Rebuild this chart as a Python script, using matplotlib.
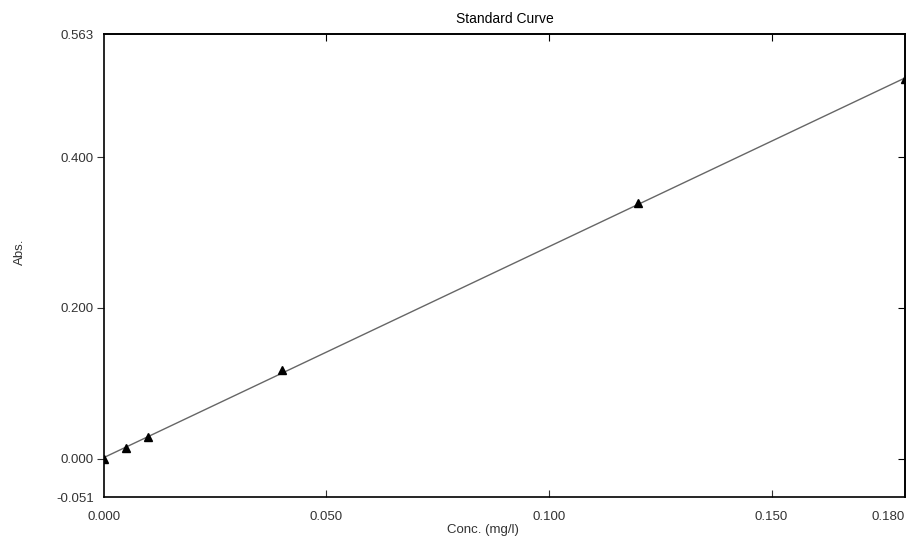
import numpy as np
import matplotlib.pyplot as plt
from matplotlib.ticker import FixedLocator

plt.rcParams['font.family'] = ['Liberation Sans', 'DejaVu Sans']

# standard points
conc = [0.000, 0.005, 0.010, 0.040, 0.120, 0.180]
absb = [0.000, 0.014, 0.028, 0.117, 0.339, 0.503]

xticks = [0.000, 0.050, 0.100, 0.150, 0.180]
xlabels = ['0.000', '0.050', '0.100', '0.150', '0.180']
yticks = [-0.051, 0.000, 0.200, 0.400, 0.563]
ylabels = ['-0.051', '0.000', '0.200', '0.400', '0.563']
inner_x = [0.050, 0.100, 0.150]
inner_y = [0.000, 0.200, 0.400]

fig = plt.figure(figsize=(9.18, 5.42), dpi=100)
ax = fig.add_axes([0.113, 0.083, 0.873, 0.854])

# fitted line
k, b = np.polyfit(conc, absb, 1)
xs = np.array([conc[0], conc[-1]])
ax.plot(xs, k * xs + b, color='#666666', lw=1.0)
ax.plot(conc, absb, linestyle='none', marker='^', color='black', markersize=6)

ax.set_xlim(0, 0.18)
ax.set_ylim(-0.051, 0.563)

ax.set_xticks(xticks)
ax.set_xticklabels(xlabels)
ax.set_yticks(yticks)
ax.set_yticklabels(ylabels)
ax.tick_params(axis='x', direction='in', length=5, labelsize=9.5, colors='#333333', pad=10)
ax.tick_params(axis='y', direction='out', length=5, labelsize=9.5, colors='#333333', pad=2)
# hide ticks at the corners
for t in ax.xaxis.get_major_ticks():
    if t.get_loc() in (0.0, 0.18):
        t.tick1line.set_visible(False)
for t in ax.yaxis.get_major_ticks():
    if t.get_loc() in (-0.051, 0.563):
        t.tick1line.set_visible(False)
ax.get_xticklabels()[-1].set_horizontalalignment('right')

top = ax.secondary_xaxis('top')
top.xaxis.set_major_locator(FixedLocator(inner_x))
top.tick_params(direction='in', length=5, labeltop=False)
right = ax.secondary_yaxis('right')
right.yaxis.set_major_locator(FixedLocator(inner_y))
right.tick_params(direction='in', length=5, labelright=False)

for s in ax.spines.values():
    s.set_linewidth(1.2)
top.spines['top'].set_linewidth(1.2)
right.spines['right'].set_linewidth(1.2)

ax.set_title('Standard Curve', fontsize=10, pad=8)
ax.set_xlabel('Conc. (mg/l)', fontsize=9.5, color='#333333')
ax.xaxis.set_label_coords(0.473, -0.058)
ax.set_ylabel('Abs.', fontsize=9.5, color='#333333')
ax.yaxis.set_label_coords(-0.097, 0.53)

fig.savefig('out.png', dpi=100)
